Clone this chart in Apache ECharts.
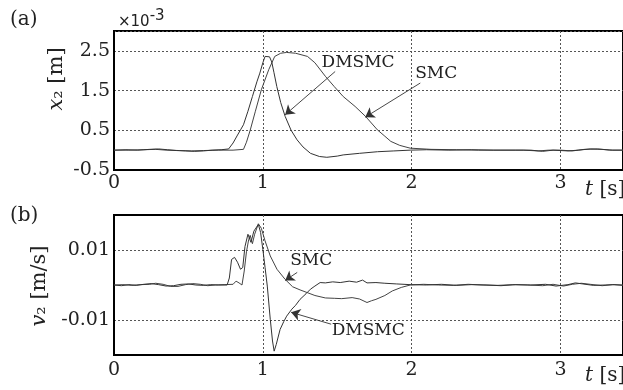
<!DOCTYPE html>
<html>
<head>
<meta charset="utf-8">
<script src="https://cdn.jsdelivr.net/npm/echarts@6/dist/echarts.min.js"></script>
<style>
html, body { margin: 0; padding: 0; background: #fff; }
#chart { width: 623px; height: 390px; }
</style>
</head>
<body>
<div id="chart"></div>
<script>
// (a) x2 in units of 1e-3 m
const tX2Dmsmc = [0, 0.08, 0.16, 0.24, 0.3, 0.36, 0.42, 0.48, 0.54, 0.6, 0.66, 0.72, 0.77, 0.8, 0.83, 0.85, 0.87, 0.9, 0.93, 0.96, 0.98, 1.0, 1.015, 1.027, 1.045, 1.06, 1.075, 1.094, 1.12, 1.15, 1.19, 1.23, 1.27, 1.32, 1.38, 1.43, 1.5, 1.54, 1.65, 1.77, 1.88, 1.99, 2.1, 2.25, 2.4, 2.55, 2.7, 2.8, 2.88, 2.95, 3.05, 3.12, 3.2, 3.28, 3.35, 3.42];
const x2Dmsmc = [0, 0.01, 0.0, 0.02, 0.03, 0.01, -0.01, -0.02, -0.03, -0.02, 0.0, 0.01, 0.03, 0.18, 0.38, 0.51, 0.64, 0.98, 1.35, 1.72, 1.94, 2.2, 2.36, 2.41, 2.35, 2.22, 1.95, 1.6, 1.2, 0.85, 0.5, 0.26, 0.08, -0.08, -0.16, -0.18, -0.15, -0.12, -0.08, -0.04, -0.02, 0.0, 0.01, 0.0, 0.01, 0.0, 0.0, 0.0, -0.03, 0.0, -0.02, 0.0, 0.03, 0.02, 0.0, 0.0];
const tX2Smc = [0, 0.1, 0.2, 0.28, 0.35, 0.44, 0.52, 0.6, 0.7, 0.8, 0.87, 0.89, 0.915, 0.95, 0.99, 1.04, 1.08, 1.12, 1.16, 1.22, 1.3, 1.35, 1.42, 1.48, 1.54, 1.62, 1.69, 1.77, 1.82, 1.86, 1.92, 1.99, 2.13, 2.3, 2.45, 2.6, 2.75, 2.85, 2.92, 3.0, 3.08, 3.16, 3.25, 3.33, 3.42];
const x2Smc = [0, 0.0, 0.01, 0.02, 0.0, -0.01, -0.02, -0.01, 0.0, 0.0, 0.02, 0.2, 0.5, 0.98, 1.52, 2.03, 2.36, 2.44, 2.46, 2.44, 2.36, 2.2, 1.86, 1.6, 1.35, 1.1, 0.85, 0.51, 0.35, 0.22, 0.12, 0.05, 0.02, 0.01, 0.0, 0.0, 0.0, -0.02, 0.0, 0.0, -0.02, 0.02, 0.03, 0.0, 0.0];

// (b) v2 in m/s
const tV2Dmsmc = [0, 0.05, 0.1, 0.15, 0.2, 0.25, 0.3, 0.35, 0.4, 0.45, 0.5, 0.55, 0.6, 0.65, 0.7, 0.76, 0.775, 0.79, 0.81, 0.83, 0.85, 0.865, 0.88, 0.9, 0.92, 0.94, 0.97, 0.985, 1.0, 1.015, 1.03, 1.05, 1.065, 1.076, 1.09, 1.116, 1.14, 1.16, 1.195, 1.22, 1.25, 1.29, 1.32, 1.35, 1.385, 1.42, 1.47, 1.52, 1.58, 1.63, 1.67, 1.7, 1.76, 1.82, 1.9, 1.99, 2.1, 2.2, 2.3, 2.4, 2.5, 2.6, 2.7, 2.8, 2.9, 2.97, 3.05, 3.1, 3.15, 3.22, 3.3, 3.36, 3.42];
const v2Dmsmc = [0, -0.0002, 0.0001, -0.0001, 0.0002, 0.0004, 0.0001, -0.0003, -0.0002, 0.0002, 0.0003, 0.0, -0.0001, 0.0001, 0.0, 0.0, 0.002, 0.0073, 0.0079, 0.0065, 0.0045, 0.005, 0.011, 0.0145, 0.0122, 0.0154, 0.0173, 0.015, 0.0102, 0.005, -0.0003, -0.0098, -0.016, -0.0189, -0.017, -0.0127, -0.0105, -0.0089, -0.0069, -0.0058, -0.0041, -0.0025, -0.0012, -0.0003, 0.0007, 0.0006, 0.0009, 0.0007, 0.0011, 0.0008, 0.0014, 0.0006, 0.0007, 0.0005, 0.0003, 0.0001, 0.0, 0.0002, -0.0001, 0.0001, 0.0, -0.0002, 0.0001, 0.0, 0.0002, -0.0003, 0.0001, 0.0006, 0.0003, -0.0001, 0.0, 0.0001, -0.0001];
const tV2Smc = [0, 0.06, 0.12, 0.18, 0.24, 0.28, 0.33, 0.38, 0.43, 0.48, 0.53, 0.58, 0.63, 0.68, 0.74, 0.8, 0.82, 0.84, 0.86, 0.875, 0.89, 0.905, 0.915, 0.93, 0.945, 0.97, 0.99, 1.015, 1.05, 1.095, 1.15, 1.2, 1.25, 1.3, 1.35, 1.42, 1.48, 1.53, 1.6, 1.65, 1.7, 1.73, 1.76, 1.82, 1.87, 1.93, 1.99, 2.08, 2.18, 2.28, 2.38, 2.48, 2.58, 2.68, 2.78, 2.88, 2.95, 3.02, 3.08, 3.14, 3.2, 3.28, 3.35, 3.42];
const v2Smc = [0, 0.0001, -0.0001, 0.0001, 0.0002, 0.0005, 0.0002, -0.0004, -0.0004, 0.0001, 0.0004, 0.0002, -0.0002, 0.0, 0.0001, 0.0002, 0.0011, 0.0006, 0.0, 0.004, 0.0095, 0.013, 0.0142, 0.0118, 0.0145, 0.0175, 0.0162, 0.0126, 0.0083, 0.0045, 0.0016, -0.0005, -0.0014, -0.0022, -0.003, -0.0037, -0.0038, -0.0039, -0.0036, -0.004, -0.005, -0.0045, -0.0041, -0.003, -0.0017, -0.0007, 0.0, 0.0002, 0.0, -0.0001, 0.0002, 0.0, -0.0001, 0.0001, 0.0, -0.0002, 0.0002, -0.0003, 0.0002, 0.0005, 0.0002, -0.0002, 0.0001, 0.0];

// ticks
const tTicks = [0, 1, 2, 3];
const x2Ticks = [-0.5, 0.5, 1.5, 2.5];
const v2Ticks = [-0.01, 0.01];

// annotations: label position, arrow start, arrow tip (data coords)
const notesX2 = [
    { text: 'DMSMC', at: [1.64, 2.2], from: [1.486, 1.98], to: [1.15, 0.89] },
    { text: 'SMC', at: [2.165, 1.93], from: [2.058, 1.69], to: [1.688, 0.83] }
];
const notesV2 = [
    { text: 'SMC', at: [1.325, 0.0071], from: [1.231, 0.0036], to: [1.15, 0.0013] },
    { text: 'DMSMC', at: [1.708, -0.0129], from: [1.459, -0.0112], to: [1.19, -0.0078] }
];

const serif = 'DejaVu Serif';
const ink = '#222';
const gridDash = { type: [2, 2], color: '#555', width: 1 };

const pairs = (ts, vs) => ts.map((t, i) => [t, vs[i]]);

function timeAxis(gridIndex, margin) {
    return {
        type: 'value', gridIndex: gridIndex,
        min: 0, max: 3.42, interval: 1,
        axisLine: { show: true, onZero: false, lineStyle: { color: '#000', width: 2 } },
        axisTick: { show: false },
        axisLabel: {
            fontFamily: serif, fontSize: 19, color: ink, margin: margin,
            showMaxLabel: false,
            formatter: v => tTicks.includes(v) ? String(v) : ''
        },
        splitLine: { show: true, lineStyle: gridDash }
    };
}

function noteMarks(notes) {
    return {
        markLine: {
            silent: true,
            symbol: ['none', 'arrow'],
            symbolSize: 9,
            lineStyle: { color: '#333', width: 0.9, type: 'solid' },
            label: { show: false },
            data: notes.map(n => [{ coord: n.from }, { coord: n.to }])
        },
        markPoint: {
            silent: true,
            symbol: 'circle',
            symbolSize: 0,
            data: notes.map(n => ({
                coord: n.at,
                label: { show: true, position: 'inside', formatter: n.text, fontFamily: serif, fontSize: 17, color: ink }
            }))
        }
    };
}

function curve(x, y, data, color, extra) {
    return Object.assign({
        type: 'line', xAxisIndex: x, yAxisIndex: y,
        data: data, showSymbol: false, symbol: 'none',
        lineStyle: { color: color, width: 1 },
        animation: false
    }, extra || {});
}

const italicRich = size => ({ i: { fontStyle: 'italic', fontFamily: serif, fontSize: size, fill: ink } });

const chart = echarts.init(document.getElementById('chart'));
chart.setOption({
    animation: false,
    grid: [
        { left: 114, top: 31, right: -3, height: 139, show: true, borderColor: '#000', borderWidth: 2 },
        { left: 114, top: 215, right: -3, height: 140, show: true, borderColor: '#000', borderWidth: 2 }
    ],
    xAxis: [timeAxis(0, 4), timeAxis(1, 6)],
    yAxis: [
        {
            type: 'value', gridIndex: 0, min: -0.5, max: 3.0, interval: 1,
            axisLine: { show: true, onZero: false, lineStyle: { color: '#000', width: 2 } },
            axisTick: { show: false },
            axisLabel: {
                fontFamily: serif, fontSize: 19, color: ink, margin: 4,
                formatter: v => x2Ticks.some(t => Math.abs(t - v) < 1e-9) ? String(v) : ''
            },
            splitLine: { show: true, lineStyle: gridDash }
        },
        {
            type: 'value', gridIndex: 1, min: -0.02, max: 0.02, interval: 0.01,
            axisLine: { show: true, onZero: false, lineStyle: { color: '#000', width: 2 } },
            axisTick: { show: false },
            axisLabel: {
                fontFamily: serif, fontSize: 19, color: ink, margin: 4,
                formatter: v => v2Ticks.some(t => Math.abs(t - v) < 1e-9) ? (v < 0 ? '-0.01' : '0.01') : ''
            },
            splitLine: {
                show: true,
                lineStyle: { type: [2, 2], width: 1, color: ['rgba(0,0,0,0)', '#555', 'rgba(0,0,0,0)', '#555'] }
            }
        }
    ],
    graphic: [
        { type: 'text', left: 10, top: 10, style: { text: '(a)', font: '20px "DejaVu Serif"', fill: ink } },
        { type: 'text', left: 10, top: 206, style: { text: '(b)', font: '20px "DejaVu Serif"', fill: ink } },
        {
            type: 'text', left: 118, top: 9,
            style: {
                text: '{b|×10}{s|-3}', fill: ink,
                rich: {
                    b: { fontFamily: 'DejaVu Sans', fontSize: 15, fill: ink, padding: [6, 0, 0, 0] },
                    s: { fontFamily: 'DejaVu Sans', fontSize: 15, fill: ink, padding: [0, 0, 6, 0] }
                }
            }
        },
        {
            type: 'text', x: 57, y: 79, rotation: Math.PI / 2,
            style: {
                text: '{i|x}₂ [m]', align: 'center', verticalAlign: 'middle',
                font: '21px "DejaVu Serif"', fill: ink, rich: italicRich(21)
            }
        },
        {
            type: 'text', x: 40, y: 286, rotation: Math.PI / 2,
            style: {
                text: '{i|v}₂ [m/s]', align: 'center', verticalAlign: 'middle',
                font: '21px "DejaVu Serif"', fill: ink, rich: italicRich(21)
            }
        },
        {
            type: 'text', left: 585, top: 180,
            style: { text: '{i|t} [s]', font: '20px "DejaVu Serif"', fill: ink, rich: italicRich(20) }
        },
        {
            type: 'text', left: 585, top: 366,
            style: { text: '{i|t} [s]', font: '20px "DejaVu Serif"', fill: ink, rich: italicRich(20) }
        }
    ],
    series: [
        curve(0, 0, pairs(tX2Smc, x2Smc), '#444'),
        curve(0, 0, pairs(tX2Dmsmc, x2Dmsmc), '#333', noteMarks(notesX2)),
        curve(1, 1, pairs(tV2Smc, v2Smc), '#444'),
        curve(1, 1, pairs(tV2Dmsmc, v2Dmsmc), '#333', noteMarks(notesV2))
    ]
});
</script>
</body>
</html>
